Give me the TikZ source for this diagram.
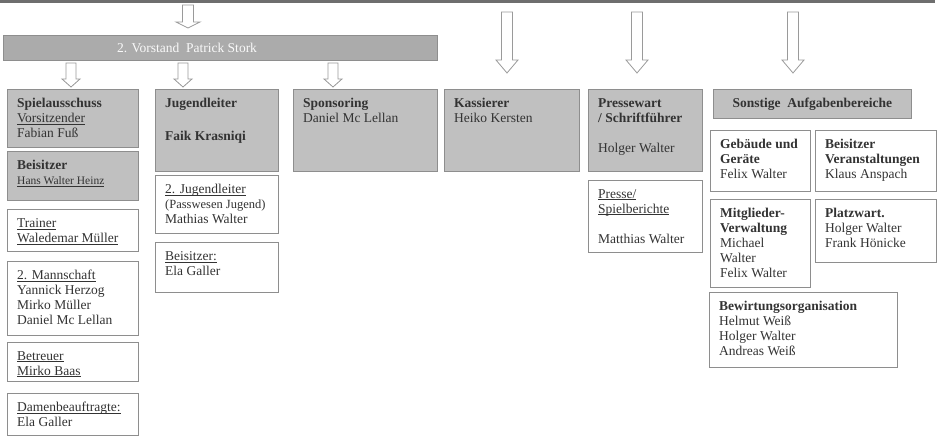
\documentclass[tikz,border=0pt]{standalone}
\usepackage{fontspec}
\setmainfont{Liberation Serif}
\definecolor{boxg}{HTML}{C0C0C0}
\definecolor{vorc}{HTML}{ABABAB}
\definecolor{bordc}{HTML}{8E8E8E}
\definecolor{arrc}{HTML}{9A9A9A}
\definecolor{txtc}{HTML}{333333}
\definecolor{topc}{HTML}{6E6E6E}
\tikzset{
  gbox/.style={draw=bordc, fill=boxg, line width=0.9pt, inner sep=0pt},
  wbox/.style={draw=bordc, fill=white, line width=0.9pt, inner sep=0pt},
  txt/.style={anchor=north west, inner sep=0pt, align=left,
    font=\fontsize{13.5}{15}\selectfont, text=txtc},
  barrow/.style={draw=arrc, fill=white, line width=0.8pt, line join=miter}
}
% name, style, x1, y1, width, height, text
\newcommand\mybox[7]{%
  \node[#2, anchor=north west, minimum width=#5pt, minimum height=#6pt] (#1) at (#3,#4) {};
  \node[txt] (#1t) at ([shift={(10,9)}]#1.north west) {#7};}
% cx, ytop, yhead, ytip, shaft half width, head half width
\newcommand\barr[6]{%
  \draw[barrow] (#1-#5,#2) -- (#1+#5,#2) -- (#1+#5,#3) -- (#1+#6,#3) -- (#1,#4)
    -- (#1-#6,#3) -- (#1-#5,#3) -- cycle;}
\newcommand\smallf{\fontsize{11.5}{13}\selectfont}
\newcommand\midf{\fontsize{12.5}{14}\selectfont}
\newsavebox\ulbox
\newcommand\ul[1]{\sbox\ulbox{#1}\rlap{\rule[-2.2pt]{\wd\ulbox}{0.8pt}}\usebox\ulbox}
\begin{document}
\begin{tikzpicture}[x=1pt,y=-1pt]
\useasboundingbox (0,0) rectangle (938,436);
% top bar
\fill[topc] (0,0) rectangle (935,3.5);
% Vorstand bar
\node[draw=bordc, fill=vorc, line width=0.9pt, anchor=north west,
  minimum width=434pt, minimum height=25pt, inner sep=0pt] (vorstand) at (3,35) {};
\node[inner sep=0pt, font=\fontsize{13.5}{15}\selectfont, text=white!95!gray] (vorstandt)
  at (187,47.5) {2. Vorstand\ \ Patrick Stork};
% arrows
\barr{188}{5}{22}{28}{5.5}{12}
\barr{71}{63}{79}{87}{5}{9}
\barr{183}{63}{79}{87}{5}{9}
\barr{333}{63}{79}{87}{5}{9}
\barr{507}{12}{60}{73}{5.5}{11}
\barr{637}{12}{60}{73}{5.5}{11}
\barr{793}{12}{60}{73}{5.5}{11}
% left column
\mybox{spiel}{gbox}{7}{89}{131}{58}{\textbf{Spielausschuss}\\\ul{Vorsitzender}\\Fabian Fuß}
\mybox{beis1}{gbox}{7}{151}{131}{49}{\textbf{Beisitzer}\\{\smallf\ul{Hans Walter Heinz}}}
\mybox{trainer}{wbox}{7}{209}{131}{42}{\ul{Trainer}\\\ul{Waledemar Müller}}
\mybox{mann}{wbox}{7}{261}{131}{74}{\ul{2. Mannschaft}\\Yannick Herzog\\Mirko Müller\\Daniel Mc Lellan}
\mybox{betreuer}{wbox}{7}{342}{131}{39}{\ul{Betreuer}\\\ul{Mirko Baas}}
\mybox{damen}{wbox}{7}{393}{131}{42}{\ul{Damenbeauftragte:}\\Ela Galler}
% Jugend column
\mybox{jugend}{gbox}{155}{89}{123}{82}{\textbf{Jugendleiter}\\[18pt]\textbf{Faik Krasniqi}}
\mybox{jug2}{wbox}{155}{175}{123}{58}{\ul{2. Jugendleiter}\\{\midf(Passwesen Jugend)}\\Mathias Walter}
\mybox{beis2}{wbox}{155}{242}{123}{50}{\ul{Beisitzer:}\\Ela Galler}
% Sponsoring, Kassierer, Pressewart
\mybox{spons}{gbox}{293}{89}{144}{82}{\textbf{Sponsoring}\\Daniel Mc Lellan}
\mybox{kass}{gbox}{444}{89}{135}{82}{\textbf{Kassierer}\\Heiko Kersten}
\mybox{presse}{gbox}{588}{89}{114}{82}{\textbf{Pressewart}\\\textbf{/ Schriftführer}\\[15pt]Holger Walter}
\mybox{presse2}{wbox}{588}{180}{114}{72}{\ul{Presse/}\\\ul{Spielberichte}\\[15pt]Matthias Walter}
% Sonstige
\node[gbox, anchor=north west, minimum width=198pt, minimum height=29pt] (sonst) at (713,89) {};
\node[inner sep=0pt, font=\fontsize{13.5}{15}\selectfont, text=txtc] (sonstt) at (sonst.center)
  {\textbf{Sonstige\ \ Aufgabenbereiche}};
\mybox{geb}{wbox}{710}{130}{100}{61}{\textbf{Gebäude und}\\\textbf{Geräte}\\Felix Walter}
\mybox{veran}{wbox}{815}{130}{121}{61}{\textbf{Beisitzer}\\\textbf{Veranstaltungen}\\Klaus Anspach}
\mybox{mitgl}{wbox}{710}{199}{100}{88}{\textbf{Mitglieder-}\\\textbf{Verwaltung}\\Michael\\Walter\\Felix Walter}
\mybox{platz}{wbox}{815}{199}{121}{63}{\textbf{Platzwart.}\\Holger Walter\\Frank Hönicke}
\mybox{bewirt}{wbox}{709}{292}{188}{75}{\textbf{Bewirtungsorganisation}\\Helmut Weiß\\Holger Walter\\Andreas Weiß}
\end{tikzpicture}
\end{document}
